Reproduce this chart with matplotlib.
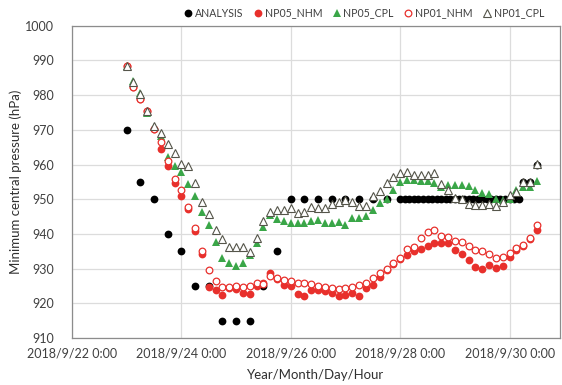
import matplotlib
matplotlib.use("Agg")
import matplotlib.pyplot as plt
import pandas as pd

plt.rcParams['font.family'] = ['Lato', 'DejaVu Sans']

# model runs: 3-hourly from 2018/9/23 0:00 to 2018/9/30 12:00
model_times = pd.date_range('2018-09-23 00:00', '2018-09-30 12:00', freq='3h')

np05_nhm = [988.3, 982.5, 979.0, 975.5, 970.3, 964.4, 959.6, 954.6,
            950.8, 947.2, 940.8, 934.1, 924.8, 923.8, 922.4, 924.5,
            924.0, 923.1, 922.8, 925.0, 925.8, 928.8, 927.0, 925.3,
            925.0, 922.6, 922.2, 923.9, 923.9, 923.6, 923.1, 922.2,
            922.4, 922.9, 922.1, 924.4, 925.3, 927.5, 929.5, 931.2,
            932.8, 933.9, 935.2, 935.6, 936.5, 937.5, 937.5, 937.5,
            935.4, 934.2, 932.5, 930.4, 929.8, 931.1, 930.1, 930.8,
            933.5, 935.5, 936.5, 938.5, 941.2]

np05_cpl = [988.3, 984.0, 980.6, 975.0, 970.8, 968.1, 962.3, 959.6,
            958.0, 954.3, 950.8, 946.4, 942.6, 937.8, 933.2, 931.5,
            930.9, 931.5, 934.0, 937.5, 941.9, 945.5, 944.2, 943.8,
            943.1, 943.1, 943.1, 943.8, 944.0, 943.1, 943.2, 943.4,
            942.6, 944.5, 944.5, 945.2, 946.9, 948.9, 950.0, 952.7,
            955.1, 955.6, 955.5, 955.4, 955.2, 954.6, 953.6, 954.1,
            954.2, 954.2, 953.7, 952.6, 951.8, 951.6, 950.2, 949.8,
            950.0, 952.7, 953.5, 953.5, 955.4]

np01_nhm = [988.3, 982.5, 978.8, 975.5, 970.3, 966.4, 960.9, 955.9,
            952.7, 947.9, 941.6, 935.2, 929.6, 926.3, 924.8, 924.8,
            925.0, 924.8, 925.0, 926.0, 925.5, 927.9, 927.2, 926.7,
            926.5, 926.0, 926.0, 925.6, 925.0, 924.6, 924.3, 924.2,
            924.3, 924.8, 925.3, 925.8, 927.2, 928.7, 929.8, 931.5,
            933.0, 935.6, 936.2, 938.9, 940.5, 941.2, 939.4, 939.2,
            938.0, 937.8, 936.5, 935.4, 935.2, 934.2, 933.0, 933.3,
            934.4, 935.9, 936.8, 938.8, 942.6]

np01_cpl = [988.3, 983.7, 980.3, 975.5, 971.0, 969.0, 966.0, 963.3,
            960.1, 959.7, 954.8, 949.3, 945.7, 941.2, 938.5, 936.2,
            936.2, 936.2, 934.9, 938.8, 943.8, 946.3, 946.8, 946.9,
            947.4, 946.0, 946.3, 947.9, 947.4, 947.4, 948.7, 949.3,
            949.8, 949.3, 948.1, 948.1, 950.8, 952.5, 954.6, 956.5,
            957.5, 958.0, 957.0, 957.0, 957.0, 957.5, 954.4, 952.7,
            950.5, 950.0, 948.5, 948.4, 948.4, 948.7, 948.0, 949.3,
            951.3, 952.0, 955.1, 955.1, 960.2]

# analysis: 6-hourly until 9/27 18:00, 2-hourly 9/28 0:00 - 9/30 4:00, then last fixes
analysis_times = (list(pd.date_range('2018-09-23 00:00', '2018-09-27 18:00', freq='6h'))
                  + list(pd.date_range('2018-09-28 00:00', '2018-09-30 04:00', freq='2h'))
                  + list(pd.to_datetime(['2018-09-30 06:00', '2018-09-30 09:00', '2018-09-30 12:00'])))
analysis = ([970, 955, 950, 940, 935, 925, 925, 915, 915, 915,
             925, 935, 950, 950, 950, 950, 950, 950, 950, 950]
            + [950] * 27
            + [955, 955, 960])

x_ticks = pd.date_range('2018-09-22 00:00', '2018-09-30 00:00', freq='2D')
x_tick_labels = ['2018/9/22 0:00', '2018/9/24 0:00', '2018/9/26 0:00',
                 '2018/9/28 0:00', '2018/9/30 0:00']

red = '#e8302c'
green = '#3aa648'
tri_edge = '#55554a'
ms = 5.6

fig = plt.figure(figsize=(5.62, 3.85), dpi=100)
ax = fig.add_axes([0.128, 0.122, 0.868, 0.811])

ax.plot(analysis_times, analysis, 'o', color='black', ms=ms, mew=0,
        label='ANALYSIS', zorder=3)
ax.plot(model_times, np05_nhm, 'o', color=red, ms=ms, mew=0,
        label='NP05_NHM', zorder=3)
ax.plot(model_times, np05_cpl, '^', color=green, ms=ms + 0.6, mew=0,
        label='NP05_CPL', zorder=3)
ax.plot(model_times, np01_nhm, 'o', mfc='white', mec=red, ms=ms - 0.8,
        mew=0.9, label='NP01_NHM', zorder=3)
ax.plot(model_times, np01_cpl, '^', mfc='white', mec=tri_edge, ms=ms,
        mew=0.8, label='NP01_CPL', zorder=3)

ax.set_ylim(910, 1000)
ax.set_yticks(range(910, 1001, 10))
ax.set_xlim(pd.Timestamp('2018-09-22 00:00'), pd.Timestamp('2018-09-30 22:00'))
ax.set_xticks(x_ticks)
ax.set_xticklabels(x_tick_labels)

ax.grid(True, color='#dcdcdc', lw=0.9)
ax.set_axisbelow(True)
for s in ax.spines.values():
    s.set_color('#8c8c8c')
    s.set_linewidth(0.9)
ax.tick_params(length=0, labelsize=9, colors='#404040')
ax.tick_params(axis='x', pad=7)
ax.tick_params(axis='y', pad=13)

ax.set_xlabel('Year/Month/Day/Hour', fontsize=9.5, color='#303030', labelpad=7)
ax.set_ylabel('Minimum central pressure (hPa)', fontsize=9.5, color='#303030',
              labelpad=2)

fig.legend(loc='upper right', bbox_to_anchor=(0.985, 1.005), ncol=5,
           frameon=False, fontsize=7.6, handlelength=0.7, handletextpad=0.3,
           columnspacing=1.0, labelcolor='#404040')

fig.savefig('out.png', dpi=100)
